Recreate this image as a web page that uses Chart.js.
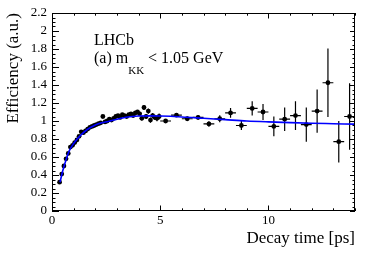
<!DOCTYPE html>
<html><head><meta charset="utf-8">
<script src="https://cdn.jsdelivr.net/npm/chart.js@4/dist/chart.umd.min.js"></script>
<style>html,body{margin:0;padding:0;background:#fff;}canvas{display:block;}</style>
</head><body>
<canvas id="c" width="374" height="253"></canvas>
<script>
// ---- data ----
const denseTime = [0.35,0.45,0.55,0.65,0.75,0.85,0.95,1.05,1.15,1.25,1.35,1.45,1.55,1.65,1.75,1.85,1.95,2.05,2.15,2.25,2.35,2.45,2.55,2.65,2.75,2.85,2.95,3.05,3.15,3.25,3.35,3.45,3.55,3.65,3.75,3.85,3.95,4.05,4.15,4.25,4.35,4.45,4.55,4.65,4.75,4.85,4.95];
const denseEff  = [0.32,0.41,0.50,0.58,0.64,0.71,0.73,0.76,0.79,0.83,0.88,0.87,0.89,0.91,0.93,0.94,0.95,0.96,0.97,0.98,1.05,0.99,1.00,1.02,1.01,1.03,1.05,1.06,1.04,1.07,1.06,1.05,1.07,1.08,1.06,1.09,1.10,1.08,1.03,1.15,1.05,1.11,1.01,1.06,1.04,1.03,1.05];
const denseErr  = [0.012,0.012,0.012,0.012,0.012,0.012,0.012,0.012,0.012,0.012,0.012,0.012,0.012,0.012,0.012,0.012,0.012,0.012,0.012,0.012,0.014,0.014,0.014,0.014,0.014,0.014,0.014,0.016,0.016,0.016,0.018,0.018,0.018,0.02,0.02,0.02,0.022,0.025,0.025,0.028,0.028,0.03,0.03,0.03,0.03,0.032,0.032];
const denseHalfBin = 0.05;
const wideTime = [5.25,5.75,6.25,6.75,7.25,7.75,8.25,8.75,9.25,9.75,10.25,10.75,11.25,11.75,12.25,12.75,13.25,13.75];
const wideEff  = [1.00,1.065,1.025,1.04,0.967,1.025,1.09,0.95,1.14,1.10,0.94,1.02,1.06,0.96,1.11,1.425,0.77,1.05];
const wideErr  = [0.02,0.02,0.025,0.025,0.03,0.04,0.055,0.05,0.08,0.09,0.11,0.13,0.16,0.19,0.24,0.38,0.23,0.37];
const wideHalfBin = 0.25;
const fitTime = [0.37,0.5,0.65,0.8,1.0,1.2,1.4,1.6,1.8,2.0,2.3,2.6,3.0,3.5,4.0,4.5,5.0,6,7,8,9,10,11,12,13,14];
const fitEff  = [0.32,0.45,0.57,0.67,0.75,0.81,0.86,0.90,0.93,0.955,0.98,0.995,1.02,1.045,1.055,1.057,1.055,1.045,1.03,1.015,1.0,0.99,0.982,0.975,0.97,0.965];
const xTickLabels = [0,5,10];
const yTickLabels = [0,0.2,0.4,0.6,0.8,1,1.2,1.4,1.6,1.8,2,2.2];

// ---- build library datasets from the arrays ----
function pts(ts, es){ return ts.map((t,i)=>({x:t,y:es[i]})); }
function errSegments(ts, es, errs, hw){
  const out=[];
  ts.forEach((t,i)=>{
    out.push({x:t,y:es[i]-errs[i]},{x:t,y:es[i]+errs[i]},{x:t,y:null});
    out.push({x:t-hw,y:es[i]},{x:t+hw,y:es[i]},{x:t,y:null});
  });
  return out;
}
const serif = '"Liberation Serif", "Times New Roman", serif';

const rootFrame = {
  id:'rootFrame',
  afterDraw(chart){
    const {ctx, chartArea:a, scales:{x,y}} = chart;
    ctx.save();
    ctx.strokeStyle='#000'; ctx.lineWidth=1;
    ctx.strokeRect(a.left+0.5, a.top+0.5, a.right-a.left-1, a.bottom-a.top-1);
    ctx.beginPath();
    for(let k=0;k<=44;k++){
      const py=Math.round(y.getPixelForValue(k*0.05))+0.5;
      const major=k%4===0;
      ctx.moveTo(a.left,py); ctx.lineTo(a.left+(major?7:3.5),py);
      ctx.moveTo(a.right,py); ctx.lineTo(a.right-(major?5:2.5),py);
    }
    for(let k=0;k<=14;k++){
      const px=Math.round(x.getPixelForValue(k))+0.5;
      const major=k%5===0;
      ctx.moveTo(px,a.bottom); ctx.lineTo(px,a.bottom-(major?5.5:2.7));
      ctx.moveTo(px,a.top); ctx.lineTo(px,a.top+(major?5.5:2.7));
    }
    ctx.stroke();
    ctx.fillStyle='#000'; ctx.textAlign='left'; ctx.textBaseline='alphabetic';
    ctx.font='16px '+serif;
    ctx.fillText('LHCb',94,45);
    let xx=94; const base=63;
    ctx.fillText('(a) m',xx,base); xx+=ctx.measureText('(a) m').width;
    ctx.font='11px '+serif;
    ctx.fillText('KK',xx,base+11); xx+=ctx.measureText('KK').width;
    ctx.font='16px '+serif;
    ctx.fillText(' < 1.05 GeV',xx,base);
    ctx.restore();
  }
};

new Chart(document.getElementById('c'),{
  type:'scatter',
  data:{datasets:[
    {data:pts(fitTime,fitEff),showLine:true,borderColor:'#0000ff',borderWidth:1.6,pointRadius:0,cubicInterpolationMode:'monotone',fill:false},
    {data:pts(denseTime,denseEff).concat(pts(wideTime,wideEff)),backgroundColor:'#000',borderWidth:0,pointRadius:2.4,pointHoverRadius:2.4},
    {data:errSegments(denseTime,denseEff,denseErr,denseHalfBin).concat(errSegments(wideTime,wideEff,wideErr,wideHalfBin)),showLine:true,spanGaps:false,borderColor:'#000',borderWidth:1.2,pointRadius:0,fill:false}
  ]},
  options:{
    responsive:false,animation:false,devicePixelRatio:1,
    layout:{padding:{left:0,right:19,top:13,bottom:0}},
    plugins:{legend:{display:false},tooltip:{enabled:false}},
    scales:{
      x:{type:'linear',min:0,max:14,
        grid:{display:false,drawTicks:false},border:{display:false},
        afterBuildTicks:s=>{s.ticks=xTickLabels.map(v=>({value:v}));},
        afterFit:s=>{s.height=42;},
        ticks:{autoSkip:false,maxRotation:0,padding:2,color:'#000',font:{family:serif,size:13},callback:v=>String(v)},
        title:{display:true,text:'Decay time [ps]',align:'end',color:'#000',font:{family:serif,size:17},padding:{top:0,bottom:4}}
      },
      y:{type:'linear',min:0,max:2.2,
        grid:{display:false,drawTicks:false},border:{display:false},
        afterBuildTicks:s=>{s.ticks=yTickLabels.map(v=>({value:v}));},
        afterFit:s=>{s.width=52;},
        ticks:{autoSkip:false,padding:5,color:'#000',font:{family:serif,size:13},callback:v=>String(+v.toFixed(1))},
        title:{display:true,text:'Efficiency (a.u.)',align:'end',color:'#000',font:{family:serif,size:17},padding:{top:3,bottom:0}}
      }
    }
  },
  plugins:[rootFrame]
});
</script>
</body></html>
